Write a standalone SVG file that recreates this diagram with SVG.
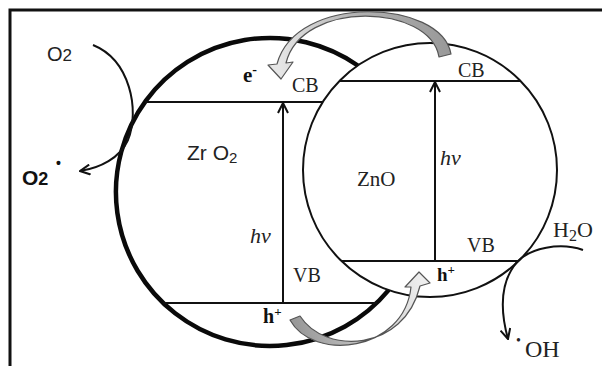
<svg xmlns="http://www.w3.org/2000/svg" width="602" height="366" viewBox="0 0 602 366">
<style>
.ln{fill:none;stroke:#111;stroke-width:2}
.thick{fill:none;stroke:#0a0a0a;stroke-width:4.5}
.ser{font-family:"Liberation Serif","Times New Roman",serif;fill:#222}
.sans{font-family:"Liberation Sans",Arial,sans-serif;fill:#222}
.b{font-weight:bold;fill:#111}
.it{font-style:italic}
.blk{fill:#fff;stroke:#555;stroke-width:1.2;stroke-linejoin:round}
</style>
<defs>
<marker id="ah" viewBox="0 0 12 12" refX="11" refY="6" markerWidth="12" markerHeight="12" markerUnits="userSpaceOnUse" orient="auto">
<path d="M1 1 L11 6 L1 11" fill="none" stroke="#111" stroke-width="2"/>
</marker>
<linearGradient id="gTop" gradientUnits="userSpaceOnUse" x1="450" y1="55" x2="280" y2="72">
<stop offset="0" stop-color="#999"/><stop offset="0.5" stop-color="#b0b0b0"/><stop offset="1" stop-color="#e6e6e6"/>
</linearGradient>
<linearGradient id="gBot" gradientUnits="userSpaceOnUse" x1="295" y1="320" x2="420" y2="278">
<stop offset="0" stop-color="#999"/><stop offset="0.5" stop-color="#c8c8c8"/><stop offset="1" stop-color="#eee"/>
</linearGradient>
</defs>
<rect width="602" height="366" fill="#fff"/>
<g id="frame">
<path d="M10 366 V10 H602" fill="none" stroke="#111" stroke-width="3"/>
</g>
<g id="zro2">
<path class="thick" d="M357.8 65.5 A154 154 0 1 0 388.6 290.1"/>
<line class="ln" x1="145" y1="102" x2="323" y2="102"/>
<line class="ln" x1="163" y1="303" x2="377" y2="303"/>
<text class="sans" x="187" y="160" font-size="21">Zr <tspan>O</tspan><tspan font-size="15" dy="3">2</tspan></text>
<text class="ser" x="292" y="92" font-size="20">CB</text>
<text class="ser" x="293" y="282" font-size="20">VB</text>
<text class="ser b" x="243" y="82" font-size="21">e<tspan font-size="14" dy="-8">-</tspan></text>
<text class="ser b" x="263" y="323" font-size="20">h<tspan font-size="13" dy="-7">+</tspan></text>
<text class="ser it" x="250" y="243" font-size="22">hv</text>
</g>
<g id="zno">
<circle class="ln" cx="430" cy="170" r="127"/>
<line class="ln" x1="339.4" y1="81" x2="520.6" y2="81"/>
<line class="ln" x1="341.4" y1="261" x2="518.6" y2="261"/>
<text class="ser" x="357" y="186" font-size="21">ZnO</text>
<text class="ser" x="458" y="77" font-size="20">CB</text>
<text class="ser" x="467" y="252" font-size="20">VB</text>
<text class="ser b" x="437" y="281" font-size="19">h<tspan font-size="13" dy="-7">+</tspan></text>
<text class="ser it" x="440" y="165" font-size="22">hv</text>
</g>
<g id="o2">
<text class="sans" x="47" y="61" font-size="20">O<tspan font-size="17">2</tspan></text>
</g>
<g id="o2rad">
<text class="sans b" x="22" y="185" font-size="21">O<tspan font-size="18">2</tspan><tspan x="56" y="168" font-size="14">•</tspan></text>
</g>
<g id="h2o">
<text class="ser" x="553" y="237" font-size="22">H<tspan font-size="16" dy="4">2</tspan><tspan dy="-4">O</tspan></text>
</g>
<g id="oh">
<text class="ser" x="516" y="345" font-size="14">•<tspan x="525" y="357" font-size="24">OH</tspan></text>
</g>
<g id="connectors">
<line class="ln" x1="283" y1="303" x2="283" y2="103" marker-end="url(#ah)"/>
<line class="ln" x1="435" y1="261" x2="435" y2="82" marker-end="url(#ah)"/>
<path class="ln" d="M93 45 C130 60 140 110 128 140 C120 158 100 168 80 171" marker-end="url(#ah)"/>
<path class="ln" d="M583 250 C560 242 530 248 517 262 C500 282 500 310 508 339" marker-end="url(#ah)"/>
<path class="blk" fill="url(#gTop)" style="fill:url(#gTop)" d="M451 54 C441 -1 296 -7 277 64 L268 65 L281 79 L293 62 L286 63 C302 -1 430 4 439 57 Z"/>
<path class="blk" style="fill:url(#gBot)" d="M290 320 C313 362 404 352 411 287 L405 287 L419 272 L430 283 L420 286 C404 352 325 355 300 316 Z"/>
</g>
</svg>
